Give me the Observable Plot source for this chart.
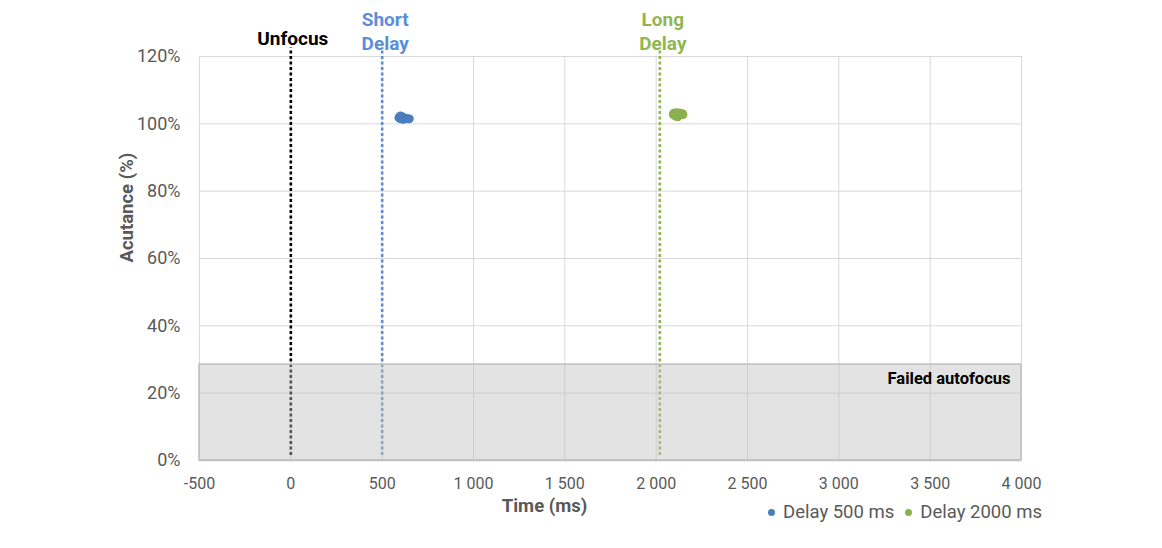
<!DOCTYPE html>
<html><head><meta charset="utf-8">
<script src="https://cdn.jsdelivr.net/npm/d3@7"></script>
<script src="https://cdn.jsdelivr.net/npm/@observablehq/plot@0.6"></script>
<style>
body{margin:0;background:#fff;font-family:Roboto,sans-serif;}
#wrap{position:relative;width:1162px;height:548px;overflow:hidden;}
#legend{position:absolute;left:768px;top:501px;font-size:18.5px;color:#595959;display:flex;gap:11px;white-space:nowrap;}
#legend span.item{display:flex;align-items:center;gap:8px;}
#legend span.sw{display:inline-block;width:7px;height:7px;border-radius:50%;}
</style></head><body><div id="wrap"><div id="legend"></div></div>
<script>
// Series
const seriesNames = ["Delay 500 ms", "Delay 2000 ms"];
const seriesColors = ["#4a7ebb", "#8db04f"];
const delay500Time =     [590, 595, 598, 600, 603, 605, 607, 610, 612, 615, 618, 620, 625, 630, 635, 640, 645, 650];
const delay500Acutance = [101.8, 102.2, 101.5, 102.4, 101.9, 101.4, 102.3, 101.7, 102.0, 101.3, 101.9, 101.6, 101.4, 101.7, 101.5, 101.6, 101.4, 101.5];
const delay2000Time =     [2092, 2096, 2100, 2104, 2108, 2110, 2114, 2118, 2120, 2124, 2128, 2132, 2136, 2140, 2145, 2148];
const delay2000Acutance = [102.8, 103.2, 102.5, 103.0, 102.2, 103.4, 102.7, 103.1, 102.0, 102.9, 103.3, 102.6, 103.0, 102.8, 103.1, 102.7];

// Event markers
const markerTimes = [0, 500, 2020];
const markerLabels = ["Unfocus", "Short\nDelay", "Long\nDelay"];
const markerColors = ["#000000", "#5b8fd5", "#8fb651"];

// Axes
const xTicks = [-500, 0, 500, 1000, 1500, 2000, 2500, 3000, 3500, 4000];
const yTicks = [0, 20, 40, 60, 80, 100, 120];
const failedThreshold = 28.5;
const failedLabel = "Failed autofocus";
const xLabel = "Time (ms)";
const yLabel = "Acutance (%)";

const points = [
  ...delay500Time.map((t, i) => ({t, a: delay500Acutance[i], color: seriesColors[0]})),
  ...delay2000Time.map((t, i) => ({t, a: delay2000Acutance[i], color: seriesColors[1]}))
];
const markers = markerTimes.map((t, i) => ({t, label: markerLabels[i], color: markerColors[i]}));
const failedZone = [{x1: xTicks[0], x2: xTicks[xTicks.length - 1], y1: 0, y2: failedThreshold}];

const fmtX = d => (d < 0 ? "-" : "") + d3.format(",")(Math.abs(d)).replace(/,/g, " ");

const chart = Plot.plot({
  width: 1162, height: 548,
  marginTop: 56, marginBottom: 88, marginLeft: 199, marginRight: 141,
  style: {fontFamily: "Roboto, sans-serif", background: "transparent", overflow: "visible"},
  x: {domain: [-500, 4000]},
  y: {domain: [0, 120]},
  marks: [
    Plot.gridX(xTicks, {stroke: "#d9d9d9", strokeOpacity: 1}),
    Plot.gridY(yTicks, {stroke: "#d9d9d9", strokeOpacity: 1}),
    Plot.ruleX(markers, {x: "t", y1: 1.5, y2: 122.5, stroke: d => d.color, strokeWidth: 2.6, strokeDasharray: "3,2.5"}),
    Plot.rect(failedZone, {x1: "x1", x2: "x2", y1: "y1", y2: "y2", fill: "#c0c0c0", fillOpacity: 0.44, stroke: "#bfbfbf", strokeWidth: 1.5}),
    Plot.ruleY([0], {stroke: "#bfbfbf", strokeWidth: 1.5}),
    Plot.axisX(xTicks, {tickSize: 0, tickPadding: 17, fontSize: 16, fill: "#595959", tickFormat: fmtX, label: null}),
    Plot.axisY(yTicks, {tickSize: 0, tickPadding: 19, fontSize: 18, fill: "#595959", tickFormat: d => d + "%", label: null}),
    Plot.dot(points, {x: "t", y: "a", fill: d => d.color, r: 4.2}),
    Plot.text(markers.slice(0, 1), {x: "t", frameAnchor: "top", text: "label", fill: d => d.color, fontSize: 19, fontWeight: "bold", dx: 2, dy: -18, lineAnchor: "middle"}),
    Plot.text(markers.slice(1), {x: "t", frameAnchor: "top", text: "label", fill: d => d.color, fontSize: 19, fontWeight: "bold", dx: 3, dy: -26, lineAnchor: "middle", lineHeight: 1.25}),
    Plot.text([failedLabel], {frameAnchor: "top-right", y: failedThreshold, text: d => d, textAnchor: "end", fontSize: 16.5, fontWeight: "bold", fill: "#000", dx: -11, dy: 8}),
    Plot.text([xLabel], {frameAnchor: "bottom", text: d => d, fontSize: 18.5, fontWeight: "bold", fill: "#595959", dx: -66, dy: 51}),
    Plot.text([yLabel], {frameAnchor: "left", text: d => d, fontSize: 18.5, fontWeight: "bold", fill: "#595959", rotate: -90, dx: -72, dy: 4})
  ]
});
document.getElementById("wrap").prepend(chart);

const legend = document.getElementById("legend");
seriesNames.forEach((name, i) => {
  const item = document.createElement("span");
  item.className = "item";
  const sw = document.createElement("span");
  sw.className = "sw";
  sw.style.background = seriesColors[i];
  const label = document.createElement("span");
  label.textContent = name;
  item.append(sw, label);
  legend.append(item);
});
</script>
</body></html>
